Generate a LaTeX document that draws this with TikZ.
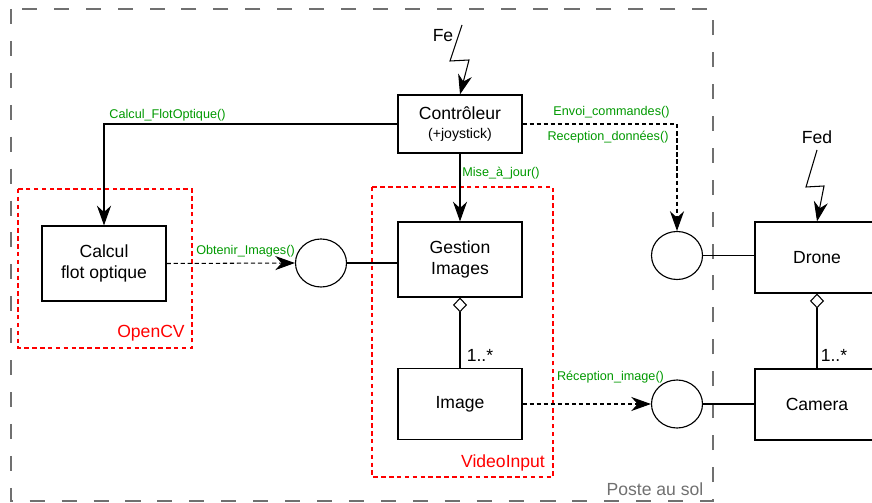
\documentclass[tikz,border=0pt]{standalone}
\usepackage{fontspec}
\setmainfont{Liberation Sans}
\usetikzlibrary{arrows.meta,positioning,shapes.geometric}
\definecolor{fngreen}{RGB}{0,153,0}
\definecolor{solgray}{RGB}{112,112,112}

\begin{document}
\begin{tikzpicture}[
  x=0.025cm, y=-0.025cm,
  box/.style={draw,fill=white,align=center,line width=0.8pt,
              font=\fontsize{12.5}{15}\selectfont,
              minimum width=3.1cm,inner sep=2pt},
  itf/.style={draw,fill=white,ellipse,line width=0.8pt,
              minimum width=1.275cm,minimum height=1.2cm,inner sep=0pt},
  meth/.style={font=\fontsize{9}{11}\selectfont,text=fngreen,inner sep=1pt},
  pkg/.style={draw=red,dash pattern=on 3.2pt off 2.4pt,line width=0.75pt},
  pkglbl/.style={text=red,font=\fontsize{12.5}{15}\selectfont,inner sep=1pt},
  arr/.style={-{Stealth[length=14pt,width=10pt,inset=4.5pt]},line width=0.75pt},
  darr/.style={arr,dash pattern=on 3pt off 2pt},
  agg/.style={{Diamond[open,length=10.5pt,width=10pt]}-,line width=0.75pt},
  lnk/.style={line width=0.75pt}
]
\useasboundingbox (0,0) rectangle (872,503);

% poste au sol
\draw[solgray,line width=0.8pt,dash pattern=on 10.7pt off 12pt] (11,9) rectangle (713,501);
\node[text=solgray,font=\fontsize{12.5}{15}\selectfont,inner sep=1pt] (sol) at (655,489) {Poste au sol};

% paquetages
\draw[pkg] (18,189) rectangle (192,348);
\node[pkglbl] (opencv) at (151,333) {OpenCV};
\draw[pkg] (372,187) rectangle (553,477);
\node[pkglbl] (vinput) at (503,463) {VideoInput};

% classes
\node[box,minimum height=1.45cm] (ctrl) at (460,124)
  {Contrôleur\\[-2pt]{\fontsize{10}{12}\selectfont (+joystick)}};
\node[box,minimum height=1.875cm] (calc) at (104,263.5) {Calcul\\flot optique};
\node[box,minimum height=1.875cm] (gest) at (460,259.5) {Gestion\\Images};
\node[box,minimum height=1.775cm] (img) at (460,404) {Image};
\node[box,minimum height=1.775cm] (drone) at (817,257.5) {Drone};
\node[box,minimum height=1.775cm] (cam) at (817,404.5) {Camera};

% interfaces
\node[itf] (c1) at (321,263) {};
\node[itf] (c2) at (677,404) {};
\node[itf] (c3) at (677,255.5) {};

% evenements
\coordinate (fe0) at (462,25);
\coordinate (fe1) at (450,61);
\coordinate (fe2) at (469,60);
\node[font=\fontsize{12.5}{15}\selectfont,inner sep=1pt] (fe) at (443,36) {Fe};
\draw[arr] (fe0) -- (fe1) -- (fe2) -- (ctrl.north);
\coordinate (fed0) at (817,150);
\coordinate (fed1) at (806,187);
\coordinate (fed2) at (824,186);
\node[font=\fontsize{12.5}{15}\selectfont,inner sep=1pt] (fed) at (817,137) {Fed};
\draw[arr] (fed0) -- (fed1) -- (fed2) -- (drone.north);

% liens
\draw[arr] (ctrl.west) -| (calc.north);
\node[meth] (m1) at (167.5,115) {Calcul\_FlotOptique()};
\draw[arr] (ctrl.south) -- (gest.north);
\node[meth] (m2) at (501,173) {Mise\_à\_jour()};
\draw[darr] (ctrl.east) -| (c3.north);
\node[meth] (m3) at (611.5,112) {Envoi\_commandes()};
\node[meth] (m4) at (608,137) {Reception\_données()};
\draw[darr] (calc.east) -- (c1.west);
\node[meth] (m5) at (245.5,251) {Obtenir\_Images()};
\draw[lnk] (c1.east) -- (c1.east -| gest.west);
\draw[darr] (img.east) -- (c2.west);
\node[meth] (m6) at (610.5,377) {Réception\_image()};
\draw[lnk] (c2.east) -- (c2.east -| cam.west);
\draw[lnk] (c3.east) -- (c3.east -| drone.west);

% agregations
\draw[agg] (gest.south) -- (img.north);
\node[font=\fontsize{12.5}{15}\selectfont,inner sep=1pt] (mul1) at (480,355) {1..*};
\draw[agg] (drone.south) -- (cam.north);
\node[font=\fontsize{12.5}{15}\selectfont,inner sep=1pt] (mul2) at (834,355) {1..*};
\end{tikzpicture}
\end{document}
